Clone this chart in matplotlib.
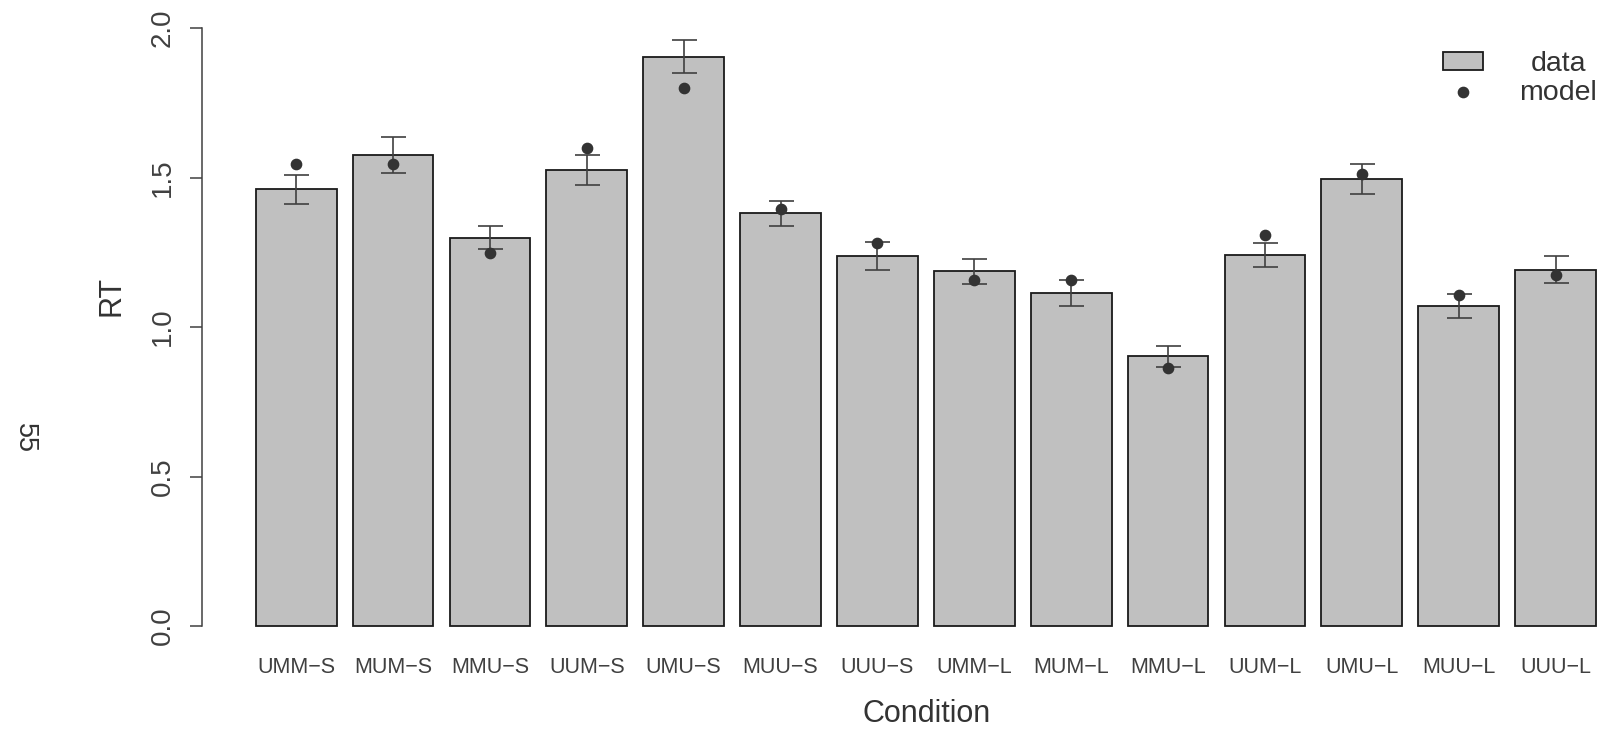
import numpy as np
import matplotlib
matplotlib.use("Agg")
import matplotlib.pyplot as plt
from matplotlib.patches import Rectangle
from matplotlib.lines import Line2D

plt.rcParams['font.family'] = ['Liberation Sans', 'DejaVu Sans']

# ---- data ----
conditions = ["UMM\u2212S", "MUM\u2212S", "MMU\u2212S", "UUM\u2212S", "UMU\u2212S", "MUU\u2212S", "UUU\u2212S",
              "UMM\u2212L", "MUM\u2212L", "MMU\u2212L", "UUM\u2212L", "UMU\u2212L", "MUU\u2212L", "UUU\u2212L"]
data_rt = [1.460, 1.574, 1.299, 1.525, 1.904, 1.380, 1.237, 1.187, 1.114, 0.903, 1.241, 1.494, 1.071, 1.192]
data_se = [0.050, 0.060, 0.038, 0.051, 0.056, 0.041, 0.046, 0.042, 0.044, 0.035, 0.040, 0.050, 0.040, 0.046]
model_rt = [1.544, 1.544, 1.246, 1.598, 1.798, 1.394, 1.280, 1.159, 1.159, 0.862, 1.307, 1.511, 1.106, 1.173]
y_ticks = [0.0, 0.5, 1.0, 1.5, 2.0]
y_tick_labels = ["0.0", "0.5", "1.0", "1.5", "2.0"]

W, H = 1604, 730
fig = plt.figure(figsize=(W / 100, H / 100), dpi=100)

ax_left_px, ax_right_px = 202.2, 1604
ax_top_px, ax_bot_px = 4.1, 650.0
ax = fig.add_axes([ax_left_px / W, 1 - ax_bot_px / H,
                   (ax_right_px - ax_left_px) / W, (ax_bot_px - ax_top_px) / H])

x = 0.7 + 1.2 * np.arange(len(conditions))
axis_col = '#404040'

ax.bar(x, data_rt, width=1.0, color='#C0C0C0', edgecolor='#1a1a1a', linewidth=1.3, zorder=2)
ax.errorbar(x, data_rt, yerr=data_se, fmt='none', ecolor='#404040', elinewidth=1.2,
            capsize=9, capthick=1.2, zorder=3)
ax.plot(x, model_rt, 'o', color='#333333', markersize=7.4, zorder=4)

ax.set_xlim(-0.464, 16.8 + 8.1 / 80.73)
ax.set_ylim(-0.08, 2.08)

for s in ['top', 'right', 'bottom']:
    ax.spines[s].set_visible(False)
ax.spines['left'].set_bounds(0, 2)
ax.spines['left'].set_color(axis_col)
ax.spines['left'].set_linewidth(1.1)

ax.set_yticks(y_ticks, y_tick_labels, rotation=90, va='center', fontsize=20, color='#404040')
ax.tick_params(axis='y', length=8.6, width=1.1, color=axis_col, pad=10.5)
ax.set_xticks(x, conditions, fontsize=15.5, color='#404040')
ax.tick_params(axis='x', length=0, pad=5.0)

ax.set_xlabel('Condition', fontsize=22, color='#333333')
ax.xaxis.set_label_coords((927 - ax_left_px) / (ax_right_px - ax_left_px), (ax_bot_px - 699) / (ax_bot_px - ax_top_px))
ax.set_ylabel('RT', fontsize=22, color='#333333')
ax.yaxis.set_label_coords((127 - ax_left_px) / (ax_right_px - ax_left_px), (ax_bot_px - 296) / (ax_bot_px - ax_top_px))

# legend (manual, R style)
def fx(px):
    return (px - ax_left_px) / (ax_right_px - ax_left_px)

def fy(py):
    return (ax_bot_px - py) / (ax_bot_px - ax_top_px)

ax.add_patch(Rectangle((fx(1442.7), fy(70.0)), fx(1482.7) - fx(1442.7), fy(52.3) - fy(70.0),
                       transform=ax.transAxes, facecolor='#C0C0C0', edgecolor='#1a1a1a',
                       linewidth=1.3, clip_on=False, zorder=5))
ax.add_line(Line2D([fx(1462.7)], [fy(91.7)], marker='o', color='#333333', markersize=7.4,
                   transform=ax.transAxes, clip_on=False, zorder=5))
ax.text(fx(1558), fy(71.0), 'data', transform=ax.transAxes, ha='center', va='baseline',
        fontsize=20.5, color='#333333')
ax.text(fx(1558), fy(99.5), 'model', transform=ax.transAxes, ha='center', va='baseline',
        fontsize=20.5, color='#333333')

fig.text(25 / W, 1 - 438 / H, '55', rotation=270, ha='center', va='center', fontsize=19.5, color='#333333')

fig.savefig('out.png', dpi=100)
